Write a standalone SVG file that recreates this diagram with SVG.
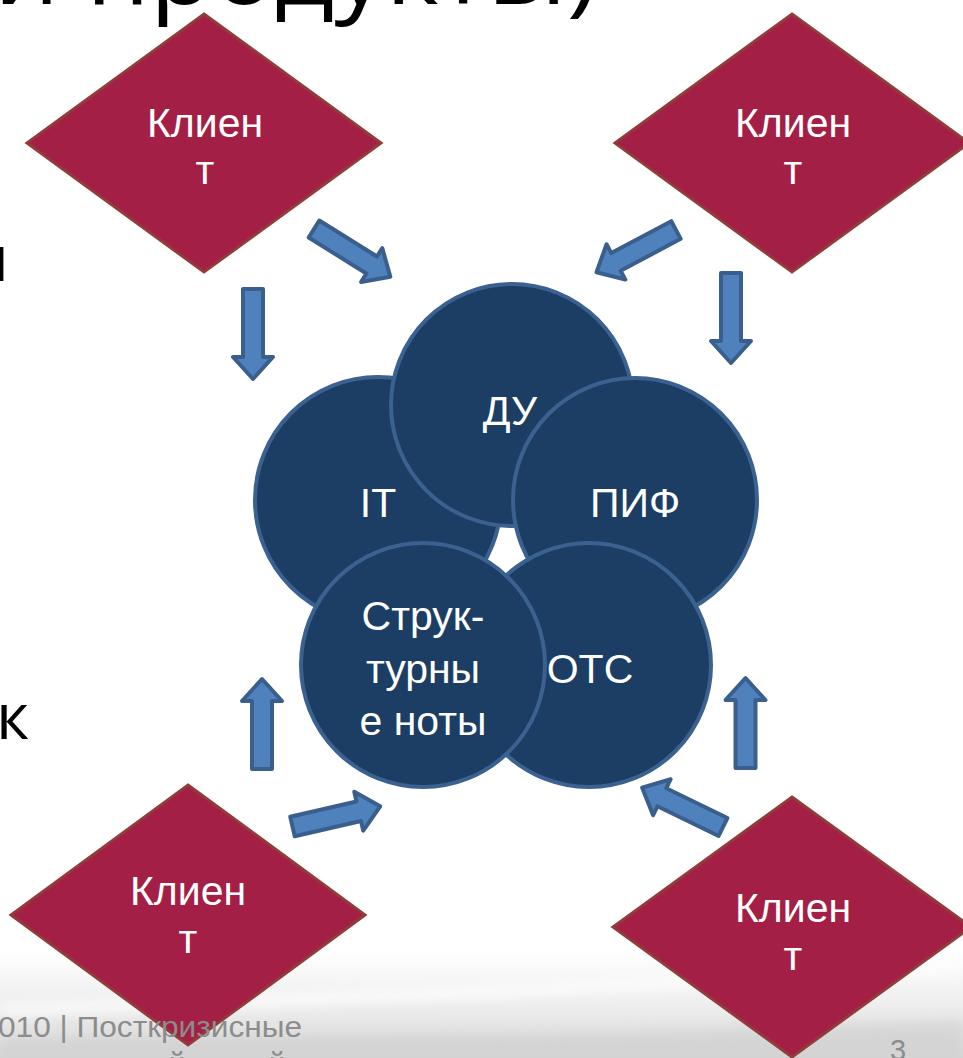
<svg xmlns="http://www.w3.org/2000/svg" width="963" height="1058" viewBox="0 0 963 1058">
<defs>
<linearGradient id="bg" x1="0" y1="0" x2="0" y2="1">
<stop offset="0" stop-color="#ffffff"/>
<stop offset="0.5" stop-color="#eeeeee"/>
<stop offset="1" stop-color="#d6d6d6"/>
</linearGradient>
<filter id="blur" x="-10%" y="-50%" width="120%" height="200%"><feGaussianBlur stdDeviation="6"/></filter>
<path id="arr" d="M0,-10 H68 V-20 L90,0 L68,20 V10 H0 Z"/>
</defs>
<style>
.dia{fill:#A31F45;stroke:#933B3B;stroke-width:3}
.cir{fill:#1C3E64;stroke:#3B6190;stroke-width:4}
.arw{fill:#4F81BD;stroke:#3A5F8C;stroke-width:4;stroke-linejoin:round}
.lbl{font-family:"Liberation Sans",Arial,sans-serif;font-size:41px;fill:#ffffff;text-anchor:middle}
.ttl{font-family:"Open Sans","Liberation Sans",sans-serif;fill:#000000}
.ftr{font-family:"Liberation Sans",Arial,sans-serif;fill:#8c8c8c}
</style>
<rect width="963" height="1058" fill="#ffffff"/>
<g id="background">
<rect x="0" y="950" width="963" height="108" fill="url(#bg)"/>
<path d="M0,1040 C250,1030 500,1045 963,1020 L963,1058 L0,1058 Z" fill="#cfcfcf" opacity="0.6" filter="url(#blur)"/>
<path d="M0,1010 C300,1000 600,990 963,965" stroke="#ffffff" stroke-width="10" fill="none" opacity="0.8" filter="url(#blur)"/>
</g>
<g id="title">
<text class="ttl" x="-6" y="4" font-size="96" textLength="603" lengthAdjust="spacingAndGlyphs">и продукты)</text>
<text class="ttl" x="9" y="281" font-size="64" text-anchor="end">и</text>
<text class="ttl" x="-4" y="739" font-size="64">к</text>
</g>
<g id="connectors">
<use href="#arr" class="arw" transform="translate(253,289) rotate(90)"/>
<use href="#arr" class="arw" transform="translate(314,229) rotate(32)"/>
<use href="#arr" class="arw" transform="translate(676,230) rotate(152)"/>
<use href="#arr" class="arw" transform="translate(731,273) rotate(90)"/>
<use href="#arr" class="arw" transform="translate(262,769) rotate(-90)"/>
<use href="#arr" class="arw" transform="translate(292.5,826.5) rotate(-13)"/>
<use href="#arr" class="arw" transform="translate(745.5,768) rotate(-90)"/>
<use href="#arr" class="arw" transform="translate(723,827) rotate(206)"/>
</g>
<g id="client-tl">
<polygon class="dia" points="204,14 381,143 204,272 27,143"/>
<text class="lbl" x="205" y="137">Клиен</text>
<text class="lbl" x="205" y="184">т</text>
</g>
<g id="client-tr">
<polygon class="dia" points="792,14 969,143 792,272 615,143"/>
<text class="lbl" x="793" y="137">Клиен</text>
<text class="lbl" x="793" y="184">т</text>
</g>
<g id="client-bl">
<polygon class="dia" points="188,785 365,915 188,1045 11,915"/>
<text class="lbl" x="188" y="905">Клиен</text>
<text class="lbl" x="188" y="953">т</text>
</g>
<g id="client-br">
<polygon class="dia" points="792,797 971,927 792,1057 613,927"/>
<text class="lbl" x="793" y="922">Клиен</text>
<text class="lbl" x="793" y="970">т</text>
</g>
<g id="it">
<circle class="cir" cx="378" cy="500" r="123"/>
<text class="lbl" x="378" y="517">IT</text>
</g>
<g id="du">
<circle class="cir" cx="512" cy="405" r="121"/>
<text class="lbl" x="510" y="425">ДУ</text>
</g>
<g id="pif">
<circle class="cir" cx="635" cy="500" r="122"/>
<text class="lbl" x="635" y="517">ПИФ</text>
</g>
<g id="otc">
<circle class="cir" cx="589" cy="665" r="122"/>
<text class="lbl" x="590" y="683">ОТС</text>
</g>
<g id="notes">
<circle class="cir" cx="423" cy="665" r="122"/>
<text class="lbl" x="423" y="630">Струк-</text>
<text class="lbl" x="423" y="683">турны</text>
<text class="lbl" x="423" y="735">е ноты</text>
</g>
<g id="footer">
<text class="ftr" x="-2" y="1037" font-size="29" textLength="304" lengthAdjust="spacingAndGlyphs">010 | Посткризисные</text>
<text class="ftr" x="177" y="1073" font-size="29" text-anchor="middle">й</text>
<text class="ftr" x="277" y="1073" font-size="29" text-anchor="middle">й</text>
<text class="ftr" x="898" y="1060" font-size="29" text-anchor="middle">3</text>
</g>
</svg>
